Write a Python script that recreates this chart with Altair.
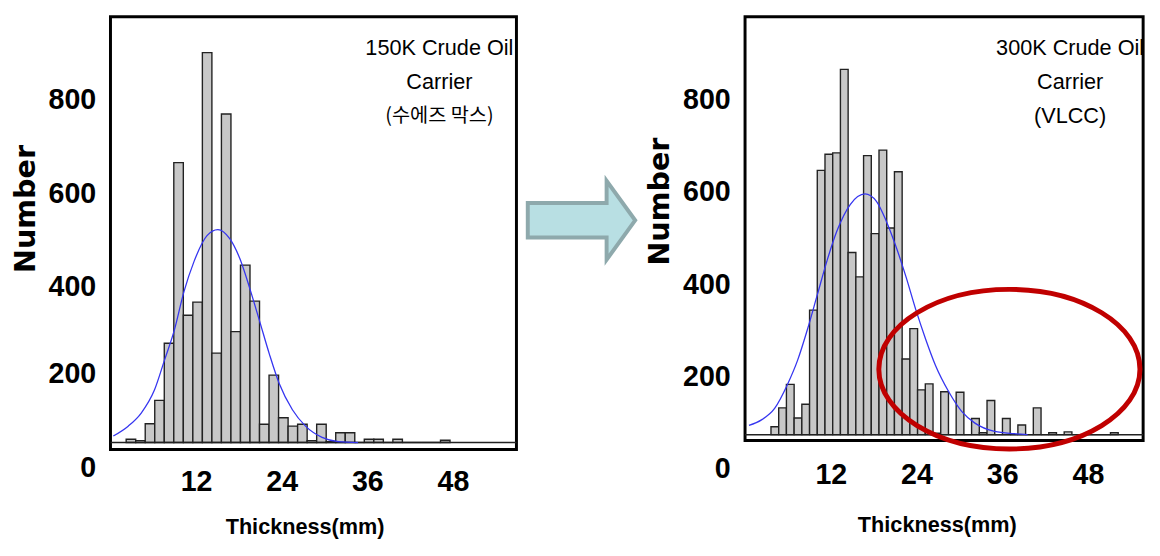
import altair as alt
import pandas as pd

# ---------------- data ----------------
thickness_ticks = [12, 24, 36, 48]
number_ticks = [0, 200, 400, 600, 800]

# 150K crude oil carrier (Suezmax): histogram of plate thickness
bins_150k_start = 2.2    # mm, left edge of first bin
bins_150k_width = 1.335  # mm
counts_150k = [7, 4, 40, 90, 212, 598, 272, 300, 833, 191, 702, 237, 379, 302, 39,
               144, 53, 35, 39, 4, 39, 2, 21, 21, 0, 7, 7, 0, 7, 0, 0, 0, 0, 5]
curve_150k_x = [0.40, 2.48, 4.31, 6.16, 7.55, 8.93, 10.31, 11.69, 13.53, 15.05, 16.74,
                18.13, 19.51, 20.89, 22.27, 23.65, 25.50, 27.34, 29.65, 31.94, 34.70]
curve_150k_y = [14, 35, 63, 112, 175, 239, 323, 386, 442, 455, 435,
                393, 330, 260, 189, 126, 70, 35, 11, 2, 0]
label_150k = ["150K Crude Oil", "Carrier", "(수에즈 막스)"]
label_150k_x = 46.1
label_150k_y = [842, 771, 697]

# 300K crude oil carrier (VLCC)
bins_300k_start = 3.63
bins_300k_width = 1.080
counts_300k = [17, 58, 109, 36, 66, 270, 573, 608, 611, 792, 395, 342, 605, 436, 617,
               448, 570, 164, 230, 97, 110, 3, 93, 0, 92, 0, 35, 4, 74, 0,
               35, 0, 21, 0, 58, 0, 4, 0, 6, 0, 0, 0, 0, 0, 4]
curve_300k_x = [0.55, 2.30, 4.14, 5.97, 7.35, 8.73, 10.11, 11.49, 12.87, 14.72, 16.79, 18.39,
                19.77, 21.15, 22.53, 23.90, 25.28, 26.66, 28.51, 30.35, 32.18, 34.94, 37.70, 39.55]
curve_300k_y = [20, 32, 57, 110, 161, 228, 303, 378, 442, 499, 522, 506,
                463, 407, 342, 271, 207, 150, 93, 50, 25, 7, 2, 0]
label_300k = ["300K Crude Oil", "Carrier", "(VLCC)"]
label_300k_x = 45.5
label_300k_y = [839, 764, 690]

# highlighted tail region (centre of the red ellipse) in data units
tail_x = [37.0]
tail_y = [142]

# ---------------- styling ----------------
SANS = "Liberation Sans, Arial, sans-serif"
ELLIPSE = ("M1,0 C1,0.3375 0.5523,0.611 0,0.611 C-0.5523,0.611 -1,0.3375 -1,0 "
           "C-1,-0.3375 -0.5523,-0.611 0,-0.611 C0.5523,-0.611 1,-0.3375 1,0 Z")
ARROW = "M-1,-0.321 L0.468,-0.321 L0.468,-0.734 L1,0 L0.468,0.734 L0.468,0.321 L-1,0.321 Z"


def panel(counts, start, width, cx, cy, labels, lx, ly, xmax, ydom, w, h,
          y_label_offset, y_title_x, y_title_y, x_label_pad, x_title_x, x_title_y,
          third_font, third_size, tail=False):
    n = len(counts)
    bars = pd.DataFrame({
        "x0": [start + i * width for i in range(n)],
        "x1": [start + (i + 1) * width for i in range(n)],
        "count": counts,
        "base": [0] * n,
    })
    xs = alt.Scale(domain=[0, xmax], nice=False, zero=False)
    ys = alt.Scale(domain=ydom, nice=False, zero=False)
    xaxis = alt.Axis(values=thickness_ticks, title="Thickness(mm)", grid=False, ticks=False,
                     domain=False, labelFont=SANS, labelFontSize=29, labelFontWeight="bold",
                     labelColor="black", labelPadding=x_label_pad, labelFlush=False,
                     labelOverlap=False, titleFont=SANS, titleFontSize=22,
                     titleFontWeight="bold", titleColor="black", titleX=x_title_x,
                     titleY=x_title_y)
    yaxis = alt.Axis(values=number_ticks, title="Number", grid=False, ticks=False,
                     domain=False, labelFont=SANS, labelFontSize=29, labelFontWeight="bold",
                     labelColor="black", labelPadding=15, labelOverlap=False,
                     labelFlush=False, labelOffset=y_label_offset,
                     titleFont="DejaVu Sans", titleFontSize=29, titleFontWeight="bold",
                     titleColor="black", titleX=y_title_x, titleY=y_title_y)

    bar_layer = alt.Chart(bars).mark_bar(
        fill="#c8c8c8", stroke="#222222", strokeWidth=1.4, opacity=1
    ).encode(
        x=alt.X("x0:Q", scale=xs, axis=xaxis),
        x2="x1:Q",
        y=alt.Y("count:Q", scale=ys, axis=yaxis),
        y2="base:Q",
    )
    base_rule = alt.Chart(pd.DataFrame({"b": [0]})).mark_rule(
        color="#222222", strokeWidth=1.5
    ).encode(y="b:Q")
    curve = alt.Chart(pd.DataFrame({"x": cx, "y": cy})).mark_line(
        color="#3535f0", strokeWidth=1.3, interpolate="monotone"
    ).encode(x="x:Q", y="y:Q")
    txt_df = pd.DataFrame({"t": labels, "x": [lx] * len(labels), "y": ly})
    txt_main = alt.Chart(txt_df.iloc[:2]).mark_text(
        font=SANS, fontSize=22, color="black", align="center", baseline="middle"
    ).encode(x="x:Q", y="y:Q", text="t:N")
    txt_third = alt.Chart(txt_df.iloc[2:]).mark_text(
        font=third_font, fontSize=third_size, color="black",
        align="center", baseline="middle"
    ).encode(x="x:Q", y="y:Q", text="t:N")
    layers = [bar_layer, base_rule, curve, txt_main, txt_third]
    if tail:
        ell = alt.Chart(pd.DataFrame({"x": tail_x, "y": tail_y})).mark_point(
            shape=ELLIPSE, size=70225, filled=False, stroke="#c00000",
            strokeWidth=5, opacity=1
        ).encode(x="x:Q", y="y:Q")
        layers.append(ell)
    return alt.layer(*layers).properties(width=w, height=h)


left = panel(counts_150k, bins_150k_start, bins_150k_width, curve_150k_x, curve_150k_y,
             label_150k, label_150k_x, label_150k_y, 56.9, [-14.7, 909.5], 412, 439,
             {"condition": {"test": "datum.value <= 200", "value": 25}, "value": 32},
             -71, 194.5, 19, 197, 68, "Noto Sans CJK KR", 20)

right = panel(counts_300k, bins_300k_start, bins_300k_width, curve_300k_x, curve_300k_y,
              label_300k, label_300k_x, label_300k_y, 55.72, [-12.8, 906], 404, 430,
              34.5, -72, 187, 20.5, 194.6, 75, SANS, 22, tail=True)

arrow = alt.Chart(pd.DataFrame({"a": [0]})).mark_point(
    shape=ARROW, size=11881, filled=True, fill="#b8dfe3", stroke="#8ea9ac",
    strokeWidth=4, opacity=1
).encode(x=alt.value(59), y=alt.value(206.5)).properties(
    width=118, height=439, view=alt.ViewBackground(stroke="transparent", strokeWidth=0)
)

chart = alt.hconcat(left, arrow, right, spacing=0).resolve_scale(
    x="independent", y="independent"
).properties(
    padding={"left": 2, "top": 3, "right": 0, "bottom": 0},
    background="white",
).configure_view(stroke="black", strokeWidth=3)

chart.save("out.html", embed_options={"renderer": "svg", "actions": False})
